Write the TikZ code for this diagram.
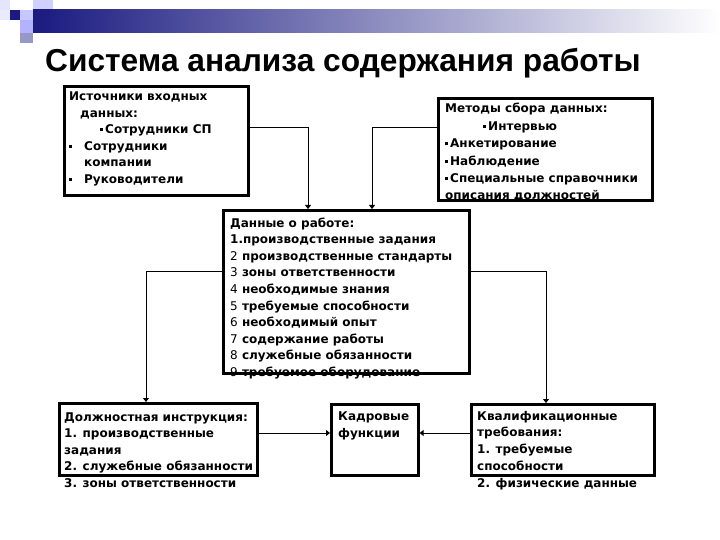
\documentclass[tikz,border=0pt]{standalone}
\usepackage{fontspec}
\setmainfont{DejaVu Sans}
\newfontfamily\titlefont{Liberation Sans}
\usetikzlibrary{arrows.meta}
\definecolor{navy}{RGB}{26,26,128}
\newcommand{\bul}{\rule[2.5pt]{3pt}{3pt}}
\tikzset{
  box/.style={draw=black, line width=2.6pt, anchor=north west, inner sep=0pt},
  txt/.style={anchor=base west, inner sep=0pt, font=\fontsize{12}{14}\selectfont\bfseries},
  arr/.style={line width=1pt, -{Triangle[width=6pt,length=4pt]}},
}
\begin{document}
\begin{tikzpicture}[x=1pt,y=-1pt]
\useasboundingbox (0,0) rectangle (720,540);
\fill[white] (0,0) rectangle (720,540);
% header decoration
\fill[black!4!blue!10] (0,0) rectangle (10,10);
\fill[blue!18!white] (33,0) rectangle (53,10);
\fill[blue!8!white] (0,10) rectangle (10,20);
\fill[navy] (10,10) rectangle (20,20);
\fill[blue!22!white] (20,10) rectangle (33,20);
\fill[blue!30!white] (20,20) rectangle (33,33);
\fill[navy!45!white] (20,33) rectangle (33,43);
\shade[left color=navy, right color=white] (33,10) rectangle (720,33);
% title
\node[anchor=base west, inner sep=0pt, font=\titlefont\fontsize{31.7}{38}\selectfont\bfseries] (title) at (45,72) {Система анализа содержания работы};
% boxes
\node[box, minimum width=184pt, minimum height=109pt] (src) at (63,85) {};
\node[box, minimum width=214pt, minimum height=102pt] (met) at (437,97) {};
\node[box, minimum width=246pt, minimum height=163pt] (dat) at (222,209) {};
\node[box, minimum width=198pt, minimum height=72pt] (job) at (58,402) {};
\node[box, minimum width=87pt, minimum height=71pt] (hr) at (330,403) {};
\node[box, minimum width=183pt, minimum height=71pt] (qual) at (470,403) {};
% source text
\node[txt] (s1) at (69,101) {Источники входных};
\node[txt] (s2) at (80,117.5) {данных:};
\node[txt] (s3) at (100,134) {\bul\,Сотрудники СП};
\node[txt] (s4) at (69,150.5) {\bul};
\node[txt] (s4b) at (84,150.5) {Сотрудники};
\node[txt] (s5) at (84,167) {компании};
\node[txt] (s6) at (69,183.5) {\bul};
\node[txt] (s6b) at (84,183.5) {Руководители};
% methods text
\node[txt] (m1) at (445,113) {Методы сбора данных:};
\node[txt] (m2) at (483,130.4) {\bul\,Интервью};
\node[txt] (m3) at (445,147.8) {\bul\,Анкетирование};
\node[txt] (m4) at (445,165.2) {\bul\,Наблюдение};
\node[txt] (m5) at (445,182.6) {\bul\,Специальные справочники};
\node[txt] (m6) at (445,200) {описания должностей};
% data text
\node[txt] (d0) at (230,227) {Данные о работе:};
\node[txt] (d1) at (230,243.6) {1.производственные задания};
\node[txt] (d2) at (230,260.2) {{\mdseries 2} производственные стандарты};
\node[txt] (d3) at (230,276.8) {{\mdseries 3} зоны ответственности};
\node[txt] (d4) at (230,293.4) {{\mdseries 4} необходимые знания};
\node[txt] (d5) at (230,310) {{\mdseries 5} требуемые способности};
\node[txt] (d6) at (230,326.6) {{\mdseries 6} необходимый опыт};
\node[txt] (d7) at (230,343.2) {{\mdseries 7} содержание работы};
\node[txt] (d8) at (230,359.8) {{\mdseries 8} служебные обязанности};
\node[txt] (d9) at (230,376.4) {{\mdseries 9} требуемое оборудование};
% job text
\node[txt] (j1) at (64,421) {Должностная инструкция:};
\node[txt] (j2) at (64,437.5) {1. производственные};
\node[txt] (j3) at (64,454) {задания};
\node[txt] (j4) at (64,470.5) {2. служебные обязанности};
\node[txt] (j5) at (64,487) {3. зоны ответственности};
% hr text
\node[txt] (h1) at (338,420) {Кадровые};
\node[txt] (h2) at (338,437) {функции};
% qual text
\node[txt] (q1) at (477,420) {Квалификационные};
\node[txt] (q2) at (477,436.75) {требования:};
\node[txt] (q3) at (477,453.5) {1. требуемые};
\node[txt] (q4) at (477,470.25) {способности};
\node[txt] (q5) at (477,487) {2. физические данные};
% connectors
\coordinate (k1) at (308,128);
\coordinate (k2) at (372,128);
\coordinate (k3) at (146,271);
\coordinate (k4) at (546,271);
\coordinate (k5) at (0,433);
\draw[arr] (src.east |- k1) -- (k1) -- (k1 |- dat.north);
\draw[arr] (met.west |- k2) -- (k2) -- (k2 |- dat.north);
\draw[arr] (dat.west |- k3) -- (k3) -- (k3 |- job.north);
\draw[arr] (dat.east |- k4) -- (k4) -- (k4 |- qual.north);
\draw[arr] (job.east |- k5) -- (hr.west |- k5);
\draw[arr] (qual.west |- k5) -- (hr.east |- k5);
\end{tikzpicture}
\end{document}
